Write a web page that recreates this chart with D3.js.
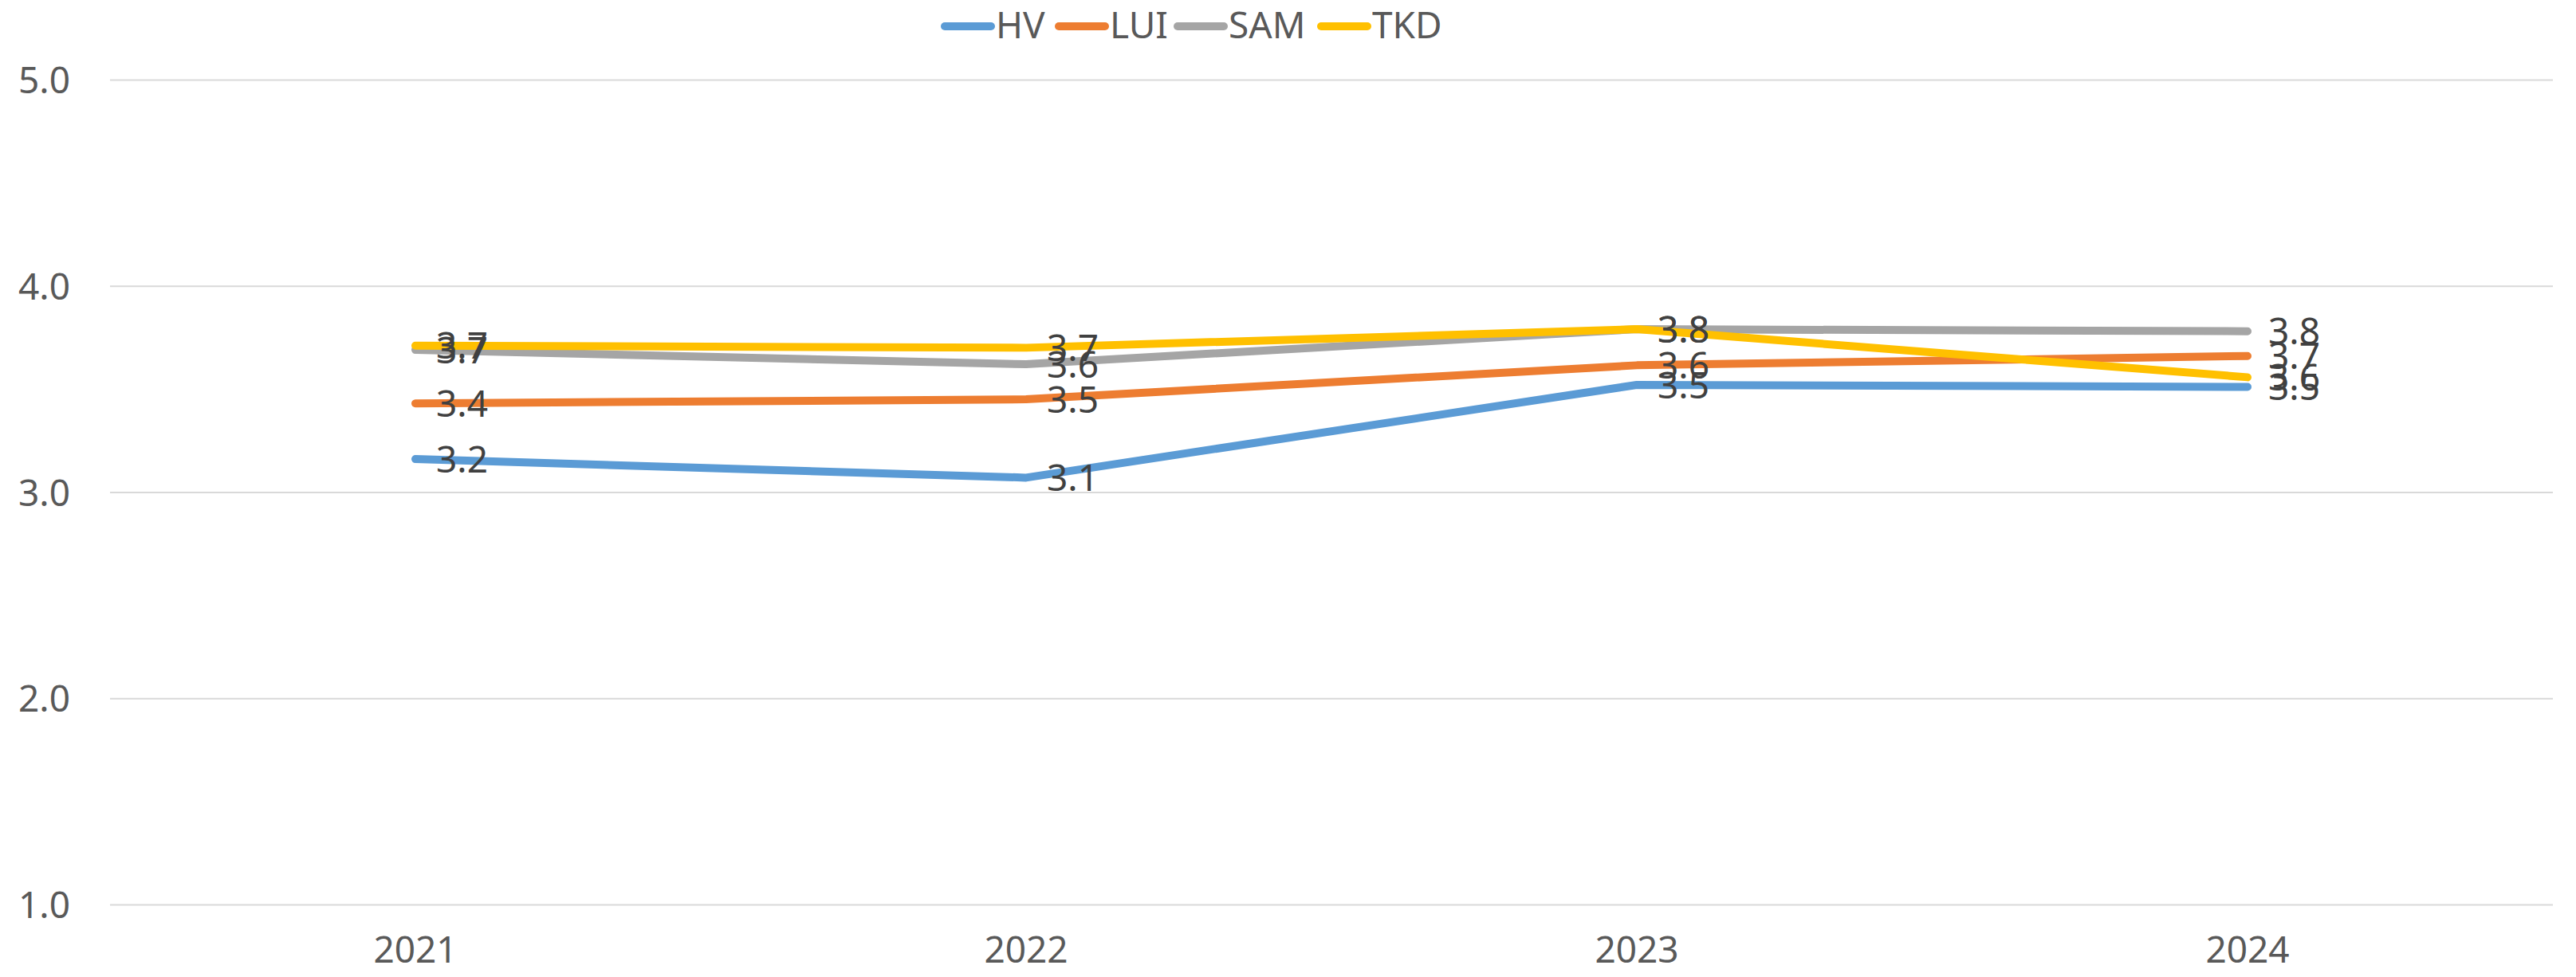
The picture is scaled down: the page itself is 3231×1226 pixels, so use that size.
<!DOCTYPE html>
<html>
<head>
<meta charset="utf-8">
<script src="https://cdn.jsdelivr.net/npm/d3@7"></script>
<style>
	html, body { margin: 0; padding: 0; background: #fff; }
	#chart { width: 3231px; height: 1226px; }
	text { font-family: 'Noto Sans', 'Open Sans', sans-serif; }
</style>
</head>
<body>
<div id="chart"></div>
<script>
const years = ['2021', '2022', '2023', '2024'];
const seriesNames = ['HV', 'LUI', 'SAM', 'TKD'];
const hvValues = [3.16, 3.07, 3.52, 3.51];
const luiValues = [3.43, 3.45, 3.615, 3.66];
const samValues = [3.69, 3.62, 3.79, 3.78];
const tkdValues = [3.71, 3.70, 3.79, 3.557];
const yTicks = [1.0, 2.0, 3.0, 4.0, 5.0];
const seriesColors = ['#5B9BD5', '#ED7D31', '#A5A5A5', '#FFC000'];

function drawLineChart() {
	let svgWidth = 3231;
	let svgHeight = 1226;
	let padding = {
		'left': 138,
		'right': 29,
		'top': 100,
		'bottom': 91
	};
	let svg = d3.select('#chart').append('svg')
		.attr('width', svgWidth)
		.attr('height', svgHeight);

	let series = [hvValues, luiValues, samValues, tkdValues].map((vals, i) => ({
		key: seriesNames[i],
		values: vals.map((v, j) => ({ year: years[j], value: v }))
	}));

	let x = d3.scaleBand()
		.domain(years)
		.range([padding.left, svgWidth - padding.right]);

	let y = d3.scaleLinear()
		.domain([1, 5])
		.range([svgHeight - padding.bottom, padding.top]);

	let colors = d3.scaleOrdinal()
		.domain(seriesNames)
		.range(seriesColors);

	// gridlines + y labels
	let axis_y = d3.axisLeft(y)
		.tickValues(yTicks)
		.tickSize(-(svgWidth - padding.left - padding.right))
		.tickPadding(50)
		.tickFormat(d3.format('.1f'));

	let gy = svg.append('g')
		.classed('y-axis', true)
		.attr('transform', `translate(${padding.left}, 0)`)
		.call(axis_y);
	gy.select('.domain').remove();
	gy.selectAll('.tick line')
		.attr('stroke', '#d9d9d9')
		.attr('stroke-width', 2);
	gy.selectAll('.tick text')
		.attr('fill', '#595959')
		.attr('font-size', '46px')
		.attr('dy', '0.36em');

	// x labels
	let axis_x = d3.axisBottom(x)
		.tickSize(0)
		.tickPadding(40);

	let gx = svg.append('g')
		.classed('x-axis', true)
		.attr('transform', `translate(0, ${svgHeight - padding.bottom})`)
		.call(axis_x);
	gx.select('.domain').remove();
	gx.selectAll('.tick text')
		.attr('fill', '#595959')
		.attr('font-size', '46px')
		.attr('dy', '0.71em');

	let cx = d => x(d.year) + x.bandwidth() / 2;

	let line = d3.line()
		.x(cx)
		.y(d => y(d.value));

	svg.append('g')
		.classed('lines', true)
		.selectAll('path')
		.data(series)
		.enter()
		.append('path')
		.attr('d', d => line(d.values))
		.attr('fill', 'none')
		.attr('stroke', d => colors(d.key))
		.attr('stroke-width', 10)
		.attr('stroke-linecap', 'round')
		.attr('stroke-linejoin', 'round');

	// data labels
	let labels = svg.append('g').classed('labels', true);
	series.forEach(s => {
		labels.selectAll(null)
			.data(s.values)
			.enter()
			.append('text')
			.attr('x', d => cx(d) + 26)
			.attr('y', d => y(d.value))
			.attr('dy', '0.36em')
			.attr('fill', '#404040')
			.attr('font-size', '46px')
			.text(d => d3.format('.1f')(d.value));
	});

	// legend
	let legendX = [1185, 1328, 1477, 1657];
	let legend = svg.selectAll('.legend')
		.data(seriesNames)
		.enter()
		.append('g')
		.attr('class', 'legend')
		.attr('transform', (d, i) => `translate(${legendX[i]}, 33)`);

	legend.append('line')
		.attr('x1', 0)
		.attr('y1', 0)
		.attr('x2', 58)
		.attr('y2', 0)
		.attr('stroke', d => colors(d))
		.attr('stroke-width', 10)
		.attr('stroke-linecap', 'round');

	legend.append('text')
		.attr('x', 64)
		.attr('y', 15)
		.attr('fill', '#595959')
		.attr('font-size', '46px')
		.text(d => d);
}

drawLineChart();
</script>
</body>
</html>
